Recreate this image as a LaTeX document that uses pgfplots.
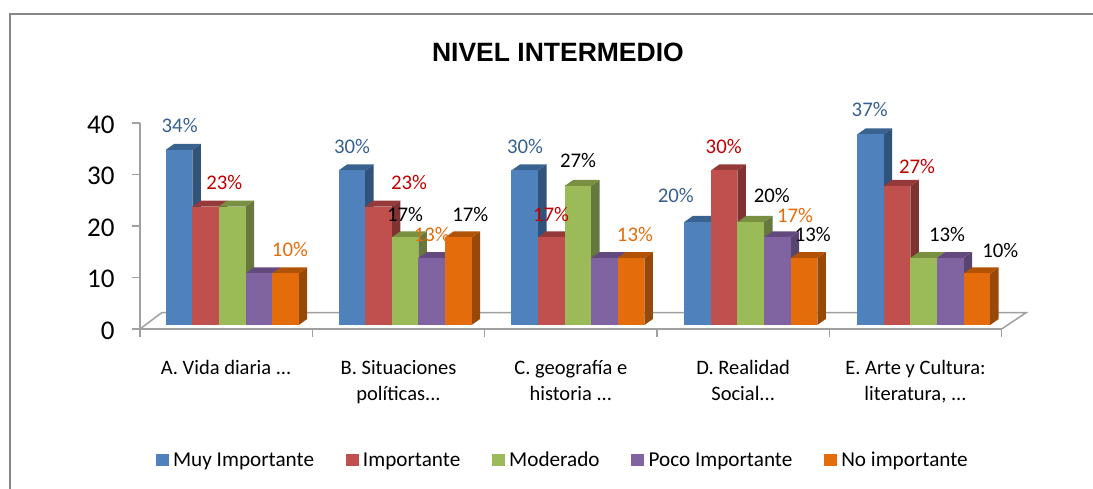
\documentclass[border=0pt]{standalone}
\usepackage{pgfplots}
\pgfplotsset{compat=1.18}
\usepackage{fontspec}
\setmainfont{Carlito}
\newfontfamily\titlefont{Liberation Sans}
\definecolor{blueF}{HTML}{4F81BD}\definecolor{blueS}{HTML}{31527A}\definecolor{blueT}{HTML}{3A6291}
\definecolor{redF}{HTML}{C0504D}\definecolor{redS}{HTML}{7F3230}\definecolor{redT}{HTML}{953A38}
\definecolor{greenF}{HTML}{9BBB59}\definecolor{greenS}{HTML}{66783D}\definecolor{greenT}{HTML}{789040}
\definecolor{purpleF}{HTML}{8064A2}\definecolor{purpleS}{HTML}{57456F}\definecolor{purpleT}{HTML}{64497F}
\definecolor{orangeF}{HTML}{E46C0A}\definecolor{orangeS}{HTML}{984807}\definecolor{orangeT}{HTML}{B25206}
\definecolor{axisgray}{HTML}{A0A0A0}
\definecolor{lblblue}{HTML}{376092}\definecolor{lblred}{HTML}{C00000}\definecolor{lblorange}{HTML}{E46C0A}
\newcommand\tdots{.\kern0pt.\kern0pt.}
% group k, position j, value v, colour name
\newcommand{\threedbar}[4]{%
  \pgfmathsetmacro\xa{#1+0.149+0.003*#1+#2*0.1544}%
  \pgfmathsetmacro\xb{\xa+0.1544}%
  \pgfmathsetmacro\xc{\xb+0.0493}%
  \pgfmathsetmacro\xd{\xa+0.0493}%
  \pgfmathsetmacro\yt{#3+0.777}%
  \pgfmathsetmacro\ytb{\yt+1.165}%
  \addplot[fill=#4S,draw=none,forget plot] coordinates {(\xb,0.777) (\xc,1.942) (\xc,\ytb) (\xb,\yt)} -- cycle;
  \addplot[fill=#4T,draw=none,forget plot] coordinates {(\xa,\yt) (\xb,\yt) (\xc,\ytb) (\xd,\ytb)} -- cycle;
  \addplot[fill=#4F,draw=none,forget plot] coordinates {(\xa,0.777) (\xb,0.777) (\xb,\yt) (\xa,\yt)} -- cycle;
}
\pgfplotstableread{
x y v
0.230 39.47 34
1.230 35.40 30
2.234 35.40 30
3.109 25.83 20
4.234 42.53 37
}\lblblue
\pgfplotstableread{
x y v
0.489 28.41 23
1.561 28.41 23
2.385 22.33 17
3.387 35.40 30
4.509 31.51 27
}\lblred
\pgfplotstableread{
x y v
0.870 15.48 10
1.693 18.44 13
2.872 18.44 13
3.801 22.08 17
}\lblorange
\pgfplotstableread{
x y v
1.538 22.33 17
1.917 22.33 17
2.542 32.63 27
3.666 25.83 20
3.904 18.44 13
4.683 18.44 13
4.992 15.34 10
}\lblblack
\begin{document}
\begin{tikzpicture}[x=1pt,y=1pt]
\useasboundingbox (-140,-160) rectangle (953,329);
\draw[color=black!47,line width=2pt] (-129.5,-165) -- (-129.5,314.5) -- (960,314.5);
\begin{axis}[
  at={(0,0)},anchor=south west,
  scale only axis,width=861.7pt,height=206pt,
  xmin=0,xmax=5,ymin=0,ymax=40,
  clip=false,
  axis y line=left,axis x line=bottom,
  axis line style={-,draw=axisgray,line width=1.5pt},
  tick style={draw=axisgray,line width=1.5pt},
  tick align=outside,major tick length=8pt,
  xtick={0,1,2,3,4,5},ytick={0,10,20,30,40},
  x tick label as interval,
  xticklabels={A. Vida diaria \tdots,{B. Situaciones\\políticas\tdots},{C. geografía e\\historia \tdots},{D. Realidad\\Social\tdots},{E. Arte y Cultura:\\literatura, \tdots}},
  xticklabel style={align=center,font=\fontsize{20.5}{26}\selectfont,yshift=-20pt},
  yticklabel style={font=\fontsize{27}{28}\selectfont,xshift=-14pt,yshift=-1.5pt,/pgf/number format/assume math mode=true},
  title={NIVEL INTERMEDIO},
  title style={at={(axis description cs:0.485,1.316)},anchor=center,font=\titlefont\bfseries\fontsize{26.5}{30}\selectfont},
  legend style={at={(axis description cs:0.0145,-0.636)},anchor=west,draw=none,fill=none,
    legend columns=5,font=\fontsize{21.2}{24}\selectfont,
    /tikz/every even column/.style={column sep=29.5pt},
    legend cell align=left},
  legend image code/.code={\fill[#1] (0pt,-5.5pt) rectangle (12pt,5.5pt);\path (15pt,0pt);},
]
\addlegendimage{blueF}\addlegendimage{redF}\addlegendimage{greenF}\addlegendimage{purpleF}\addlegendimage{orangeF}
\legend{Muy Importante,Importante,Moderado,Poco Importante,No importante}
% floor
\addplot[draw=axisgray,line width=1.5pt,forget plot] coordinates {(0,0) (0.126,3.165) (5.141,3.165) (5,0)};
% bars
\threedbar{0}{0}{34}{blue}\threedbar{0}{1}{23}{red}\threedbar{0}{2}{23}{green}\threedbar{0}{3}{10}{purple}\threedbar{0}{4}{10}{orange}
\threedbar{1}{0}{30}{blue}\threedbar{1}{1}{23}{red}\threedbar{1}{2}{17}{green}\threedbar{1}{3}{13}{purple}\threedbar{1}{4}{17}{orange}
\threedbar{2}{0}{30}{blue}\threedbar{2}{1}{17}{red}\threedbar{2}{2}{27}{green}\threedbar{2}{3}{13}{purple}\threedbar{2}{4}{13}{orange}
\threedbar{3}{0}{20}{blue}\threedbar{3}{1}{30}{red}\threedbar{3}{2}{20}{green}\threedbar{3}{3}{17}{purple}\threedbar{3}{4}{13}{orange}
\threedbar{4}{0}{37}{blue}\threedbar{4}{1}{27}{red}\threedbar{4}{2}{13}{green}\threedbar{4}{3}{13}{purple}\threedbar{4}{4}{10}{orange}
% data labels
\pgfplotsset{lab/.style={only marks,mark=none,forget plot,point meta=explicit symbolic,
  nodes near coords={\pgfplotspointmeta\%},
  nodes near coords style={anchor=center,inner sep=0pt,font=\fontsize{20.8}{24}\selectfont,text=#1}}}
\addplot[lab=lblblue] table[x=x,y=y,meta=v]{\lblblue};
\addplot[lab=lblred] table[x=x,y=y,meta=v]{\lblred};
\addplot[lab=lblorange] table[x=x,y=y,meta=v]{\lblorange};
\addplot[lab=black] table[x=x,y=y,meta=v]{\lblblack};
\end{axis}
\end{tikzpicture}
\end{document}
